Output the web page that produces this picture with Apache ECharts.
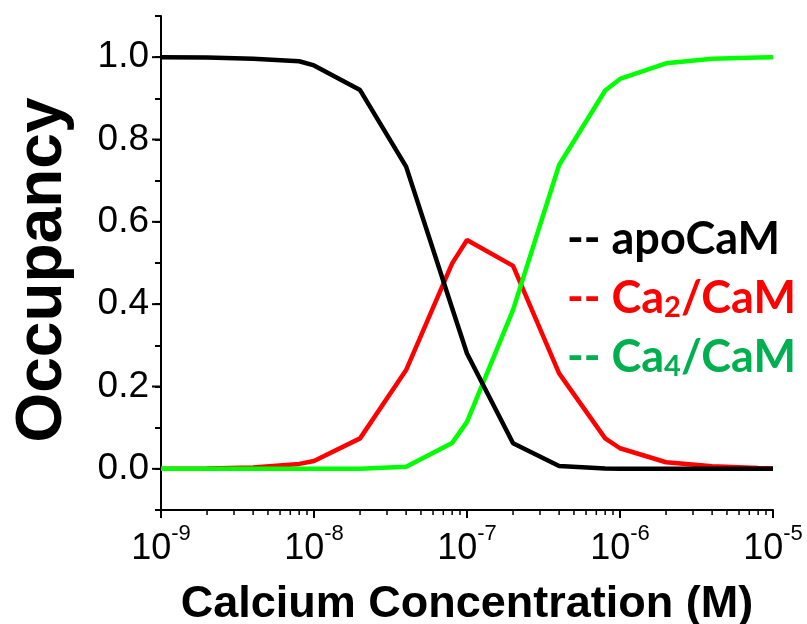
<!DOCTYPE html>
<html>
<head>
<meta charset="utf-8">
<script src="https://cdn.jsdelivr.net/npm/echarts@6/dist/echarts.min.js"></script>
<style>
html,body{margin:0;padding:0;background:#fff;}
#chart{width:807px;height:624px;}
</style>
</head>
<body>
<div id="chart"></div>
<script>
// Calcium concentration (M)
var concentrations = [1e-9, 2e-9, 4e-9, 8e-9, 1e-8, 2e-8, 4e-8, 8e-8, 1e-7, 2e-7, 4e-7, 8e-7, 1e-6, 2e-6, 4e-6, 8e-6, 1e-5];
// Occupancy values
var apoCaM = [1.0, 0.999, 0.996, 0.99, 0.98, 0.92, 0.734, 0.39, 0.28, 0.062, 0.007, 0.001, 0.0005, 0, 0, 0, 0];
var ca2CaM = [0, 0.0008, 0.003, 0.012, 0.019, 0.074, 0.24, 0.499, 0.556, 0.493, 0.232, 0.074, 0.05, 0.016, 0.006, 0.002, 0.001];
var ca4CaM = [0, 0, 0, 0, 0, 0.0005, 0.005, 0.063, 0.114, 0.386, 0.738, 0.919, 0.947, 0.985, 0.996, 0.999, 1.0];
// Axis ticks
var xDecades = [1e-9, 1e-8, 1e-7, 1e-6, 1e-5];
var xMinorMultipliers = [2, 3, 4, 5, 6, 7, 8, 9];
var yMajorTicks = [0, 0.2, 0.4, 0.6, 0.8, 1.0];
var yMin = -0.1, yMax = 1.1;

var legendLabels = {
  'apoCaM': '-- apoCaM',
  'Ca2/CaM': '-- Ca{s2|2}/CaM',
  'Ca4/CaM': '-- Ca{s4|4}/CaM'
};

function pairs(xs, ys) {
  return xs.map(function (x, i) { return [x, ys[i]]; });
}

var xMinorTicks = [];
xDecades.slice(0, -1).forEach(function (d) {
  xMinorMultipliers.forEach(function (m) { xMinorTicks.push([d * m, yMin]); });
});
var yMajorData = yMajorTicks.map(function (v) { return [xDecades[0], v]; });

var chart = echarts.init(document.getElementById('chart'));
var axisFont = 'Liberation Sans, Arial, sans-serif';

var option = {
  animation: false,
  backgroundColor: '#fff',
  grid: { left: 161, right: 34, top: 16, bottom: 114, containLabel: false, outerBoundsMode: 'none' },
  legend: {
    orient: 'vertical',
    left: 557,
    top: 210,
    icon: 'none',
    itemWidth: 0,
    itemHeight: 0,
    itemGap: 11,
    selectedMode: false,
    formatter: function (name) { return legendLabels[name]; },
    textStyle: {
      fontFamily: 'Lato, sans-serif',
      fontWeight: 'bold',
      fontSize: 45,
      lineHeight: 48,
      rich: {
        s2: { fontFamily: 'Lato, sans-serif', fontWeight: 'bold', fontSize: 29, color: '#ff0000', verticalAlign: 'bottom', lineHeight: 12 },
        s4: { fontFamily: 'Lato, sans-serif', fontWeight: 'bold', fontSize: 29, color: '#00b050', verticalAlign: 'bottom', lineHeight: 12 }
      }
    },
    data: [
      { name: 'apoCaM', textStyle: { color: '#000000' } },
      { name: 'Ca2/CaM', textStyle: { color: '#ff0000' } },
      { name: 'Ca4/CaM', textStyle: { color: '#00b050' } }
    ]
  },
  xAxis: {
    type: 'log',
    logBase: 10,
    min: 1e-9,
    max: 1e-5,
    name: 'Calcium Concentration (M)',
    nameLocation: 'middle',
    nameGap: 72,
    nameTextStyle: { fontFamily: axisFont, fontWeight: 'bold', fontSize: 45, color: '#000' },
    axisLine: { onZero: false, lineStyle: { color: '#000', width: 2 } },
    axisTick: { show: true, length: 8, lineStyle: { color: '#000', width: 2 } },
    splitLine: { show: false },
    axisLabel: {
      margin: 13,
      formatter: function (v) {
        var e = Math.round(Math.log(v) / Math.LN10);
        return '{b|10}{s|' + e + '}';
      },
      rich: {
        b: { fontFamily: axisFont, fontSize: 36, color: '#000', lineHeight: 36, padding: [16, 0, 0, 0] },
        s: { fontFamily: axisFont, fontSize: 22, color: '#000', lineHeight: 22, verticalAlign: 'top' }
      }
    }
  },
  yAxis: {
    type: 'value',
    min: yMin,
    max: yMax,
    interval: 0.1,
    name: 'Occupancy',
    nameLocation: 'middle',
    nameRotate: 90,
    nameGap: 86,
    nameTextStyle: { fontFamily: axisFont, fontWeight: 'bold', fontSize: 64, color: '#000', padding: [0, 14, 0, 0] },
    axisLine: { show: true, lineStyle: { color: '#000', width: 2 } },
    axisTick: { show: true, length: 6, lineStyle: { color: '#000', width: 2 } },
    splitLine: { show: false },
    axisLabel: {
      margin: 12,
      fontFamily: axisFont,
      fontSize: 37,
      color: '#000',
      formatter: function (v) {
        var r = Math.round(v * 10);
        if (r % 2 !== 0) return '';
        return (r / 10).toFixed(1);
      }
    }
  },
  series: [
    {
      name: 'Ca2/CaM', type: 'line', data: pairs(concentrations, ca2CaM),
      showSymbol: false, symbol: 'none', lineStyle: { color: '#ff0000', width: 4.5 }, itemStyle: { color: '#ff0000' }
    },
    {
      name: 'Ca4/CaM', type: 'line', data: pairs(concentrations, ca4CaM),
      showSymbol: false, symbol: 'none', lineStyle: { color: '#00ff00', width: 4.5 }, itemStyle: { color: '#00ff00' }
    },
    {
      name: 'apoCaM', type: 'line', data: pairs(concentrations, apoCaM),
      showSymbol: false, symbol: 'none', lineStyle: { color: '#000000', width: 4.5 }, itemStyle: { color: '#000000' }
    },
    {
      type: 'custom', silent: true, clip: false, data: xMinorTicks,
      renderItem: function (params, api) {
        var p = api.coord([api.value(0), api.value(1)]);
        return { type: 'line', shape: { x1: p[0], y1: p[1], x2: p[0], y2: p[1] + 5 }, style: { stroke: '#000', lineWidth: 1.5 } };
      }
    },
    {
      type: 'custom', silent: true, clip: false, data: yMajorData,
      renderItem: function (params, api) {
        var p = api.coord([api.value(0), api.value(1)]);
        return { type: 'line', shape: { x1: p[0], y1: p[1], x2: p[0] - 9, y2: p[1] }, style: { stroke: '#000', lineWidth: 2 } };
      }
    }
  ]
};
chart.setOption(option);
</script>
</body>
</html>
